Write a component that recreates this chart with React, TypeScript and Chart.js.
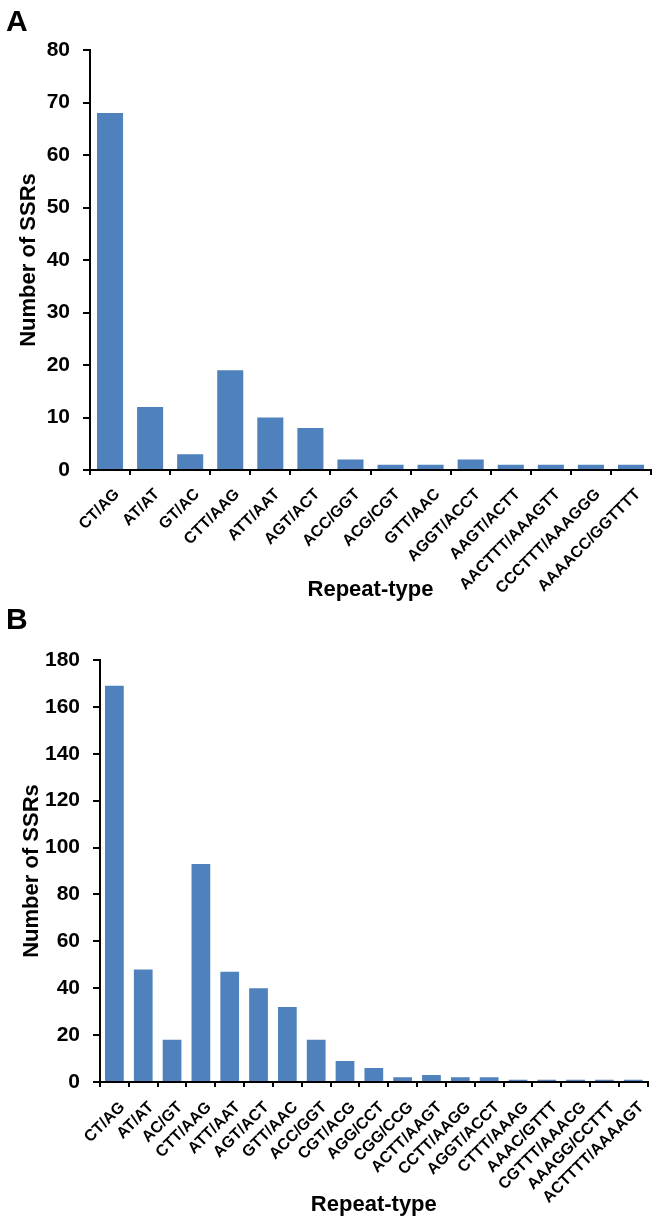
import React, { useEffect, useRef } from 'react';
import { Chart, registerables } from 'chart.js';

Chart.register(...registerables);

// ---------- Data ----------
const categoriesA = [
  'CT/AG', 'AT/AT', 'GT/AC', 'CTT/AAG', 'ATT/AAT', 'AGT/ACT', 'ACC/GGT',
  'ACG/CGT', 'GTT/AAC', 'AGGT/ACCT', 'AAGT/ACTT', 'AACTTT/AAAGTT',
  'CCCTTT/AAAGGG', 'AAAACC/GGTTTT',
];
const valuesA = [68, 12, 3, 19, 10, 8, 2, 1, 1, 2, 1, 1, 1, 1];
const yTicksA = [0, 10, 20, 30, 40, 50, 60, 70, 80];

const categoriesB = [
  'CT/AG', 'AT/AT', 'AC/GT', 'CTT/AAG', 'ATT/AAT', 'AGT/ACT', 'GTT/AAC',
  'ACC/GGT', 'CGT/ACG', 'AGG/CCT', 'CGG/CCG', 'ACTT/AAGT', 'CCTT/AAGG',
  'AGGT/ACCT', 'CTTT/AAAG', 'AAAC/GTTT', 'CGTTT/AAACG', 'AAAGG/CCTTT',
  'ACTTTT/AAAAGT',
];
const valuesB = [169, 48, 18, 93, 47, 40, 32, 18, 9, 6, 2, 3, 2, 2, 1, 1, 1, 1, 1];
const yTicksB = [0, 20, 40, 60, 80, 100, 120, 140, 160, 180];

const xTitle = 'Repeat-type';
const yTitle = 'Number of SSRs';

const FONT = '"Liberation Sans", Arial, Helvetica, sans-serif';
const BAR_COLOR = '#4F81BD';
const W = 658;

type Area = { left: number; top: number; right: number; bottom: number };

function SSRChart(props: {
  labels: string[];
  values: number[];
  yTicks: number[];
  height: number;
  area: Area;
  yTitlePad: number;
  xTitlePad: number;
  labelOffset: number;
  labelPad: number;
}) {
  const ref = useRef<HTMLCanvasElement | null>(null);
  useEffect(() => {
    if (!ref.current) return;
    const { labels, values, yTicks, height, area } = props;
    const chart = new Chart(ref.current, {
      type: 'bar',
      data: {
        labels,
        datasets: [
          {
            data: values,
            backgroundColor: BAR_COLOR,
            borderWidth: 0,
            barPercentage: 0.65,
            categoryPercentage: 1,
          },
        ],
      },
      options: {
        animation: false,
        responsive: false,
        maintainAspectRatio: false,
        devicePixelRatio: 1,
        layout: {
          padding: { top: area.top, right: W - area.right, left: 0, bottom: 0 },
        },
        plugins: {
          legend: { display: false },
          tooltip: { enabled: false },
        },
        scales: {
          x: {
            offset: true,
            grid: {
              display: true,
              offset: true,
              drawOnChartArea: false,
              drawTicks: true,
              tickLength: 5,
              color: '#000',
              lineWidth: 2,
            },
            border: { display: true, color: '#000', width: 2 },
            ticks: {
              autoSkip: false,
              minRotation: 45,
              maxRotation: 45,
              labelOffset: props.labelOffset,
              padding: props.labelPad,
              color: '#000',
              font: { family: FONT, size: 16, weight: 'bold' },
            },
            title: {
              display: true,
              text: xTitle,
              color: '#000',
              font: { family: FONT, size: 22, weight: 'bold' },
              padding: { top: 0, bottom: props.xTitlePad },
            },
            afterFit: (s: any) => {
              s.height = height - area.bottom;
            },
          },
          y: {
            min: yTicks[0],
            max: yTicks[yTicks.length - 1],
            ticks: {
              stepSize: yTicks[1] - yTicks[0],
              color: '#000',
              padding: 13,
              font: { family: FONT, size: 21, weight: 'bold' },
            },
            grid: {
              drawOnChartArea: false,
              drawTicks: true,
              tickLength: 7,
              color: '#000',
              lineWidth: 2,
            },
            border: { display: true, color: '#000', width: 2 },
            title: {
              display: true,
              text: yTitle,
              color: '#000',
              font: { family: FONT, size: 22, weight: 'bold' },
              padding: { top: props.yTitlePad, bottom: 0 },
            },
            afterFit: (s: any) => {
              s.width = area.left;
            },
          },
        },
      } as any,
    });
    return () => chart.destroy();
  }, []);
  return (
    <canvas
      ref={ref}
      width={W}
      height={props.height}
      style={{ display: 'block', width: W, height: props.height }}
    />
  );
}

const letterStyle: React.CSSProperties = {
  position: 'absolute',
  left: 6,
  fontFamily: FONT,
  fontWeight: 'bold',
  fontSize: 30,
  lineHeight: '30px',
  color: '#000',
};

export default function App() {
  return (
    <div
      style={{
        position: 'absolute',
        left: 0,
        top: 0,
        width: W,
        height: 1225,
        background: '#fff',
        overflow: 'hidden',
      }}
    >
      <SSRChart
        labels={categoriesA}
        values={valuesA}
        yTicks={yTicksA}
        height={605}
        area={{ left: 90, top: 50, right: 651, bottom: 470 }}
        yTitlePad={16}
        xTitlePad={2}
        labelOffset={7}
        labelPad={10}
      />
      <SSRChart
        labels={categoriesB}
        values={valuesB}
        yTicks={yTicksB}
        height={620}
        area={{ left: 100, top: 55, right: 651, bottom: 477 }}
        yTitlePad={19}
        xTitlePad={7}
        labelOffset={8}
        labelPad={11}
      />
      <div style={{ ...letterStyle, top: 6 }}>A</div>
      <div style={{ ...letterStyle, top: 604 }}>B</div>
    </div>
  );
}
